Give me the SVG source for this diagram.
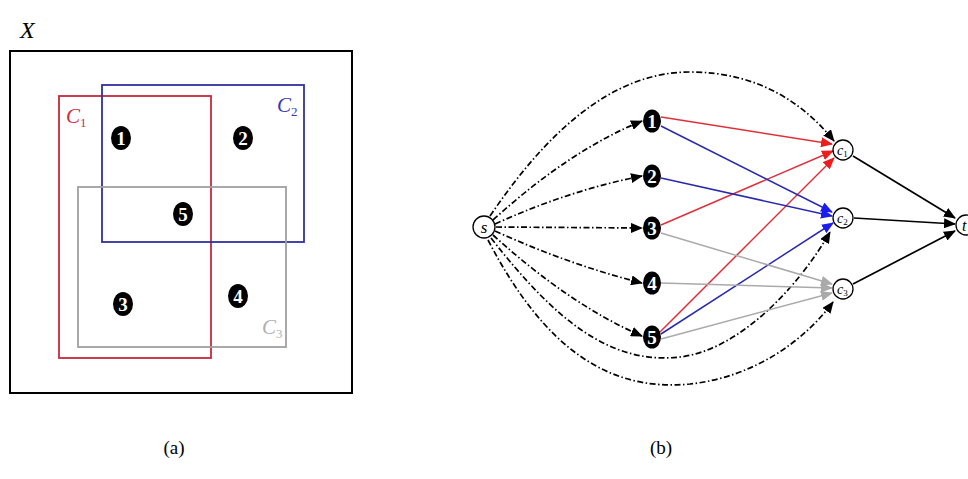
<svg xmlns="http://www.w3.org/2000/svg" width="968" height="479" viewBox="0 0 968 479">
<style>
.lbl{font-family:"Liberation Serif","DejaVu Serif","Noto Serif",serif;font-style:italic}
.num{font-family:"Liberation Serif","DejaVu Serif","Noto Serif",serif;font-weight:bold;fill:#fff;text-anchor:middle}
.cap{font-family:"Liberation Serif","DejaVu Serif","Noto Serif",serif;font-size:19px;text-anchor:middle}
.dd{fill:none;stroke:#000;stroke-width:1.7;stroke-dasharray:6 2.5 1.5 2.5}
.red{fill:none;stroke:#e0303a;stroke-width:1.5}
.blue{fill:none;stroke:#2a2ab0;stroke-width:1.5}
.gray{fill:none;stroke:#aaaaaa;stroke-width:1.5}
.blk{fill:none;stroke:#000;stroke-width:1.7}
.cn{fill:#fff;stroke:#000;stroke-width:1.3}
</style>
<defs>
<marker id="ak" markerWidth="12" markerHeight="10" refX="11" refY="5" orient="auto" markerUnits="userSpaceOnUse"><path d="M0,0 L12,5 L0,10 Z" fill="#000"/></marker>
<marker id="ar" markerWidth="12" markerHeight="10" refX="11" refY="5" orient="auto" markerUnits="userSpaceOnUse"><path d="M0,0 L12,5 L0,10 Z" fill="#ee1c1c"/></marker>
<marker id="ab" markerWidth="12" markerHeight="10" refX="11" refY="5" orient="auto" markerUnits="userSpaceOnUse"><path d="M0,0 L12,5 L0,10 Z" fill="#1c1cee"/></marker>
<marker id="ag" markerWidth="12" markerHeight="10" refX="11" refY="5" orient="auto" markerUnits="userSpaceOnUse"><path d="M0,0 L12,5 L0,10 Z" fill="#aaaaaa"/></marker>
</defs>
<rect width="968" height="479" fill="#fff"/>

<!-- Panel (a) -->
<g id="panel-a">
<text class="lbl" x="20" y="38" font-size="24">X</text>
<rect x="10" y="51" width="342" height="342" fill="none" stroke="#000" stroke-width="2"/>
<g id="set-C1">
<rect x="59" y="96" width="152" height="262" fill="none" stroke="#c8283c" stroke-width="1.8"/>
<text class="lbl" x="66" y="123" font-size="21" fill="#d02a40">C<tspan font-size="13" dy="4" font-style="normal">1</tspan></text>
</g>
<g id="set-C2">
<rect x="102" y="85" width="202" height="157" fill="none" stroke="#3030a0" stroke-width="1.8"/>
<text class="lbl" x="277" y="112" font-size="21" fill="#3838b8">C<tspan font-size="13" dy="4" font-style="normal">2</tspan></text>
</g>
<g id="set-C3">
<rect x="78" y="187" width="208" height="160" fill="none" stroke="#a0a0a0" stroke-width="1.8"/>
<text class="lbl" x="262" y="334" font-size="21" fill="#b0b0b0">C<tspan font-size="13" dy="4" font-style="normal">3</tspan></text>
</g>
<g id="a-n1"><ellipse cx="121" cy="138" rx="10" ry="12" fill="#000"/><text class="num" x="121" y="145" font-size="19">1</text></g>
<g id="a-n2"><ellipse cx="243" cy="138" rx="10" ry="12" fill="#000"/><text class="num" x="243" y="145" font-size="19">2</text></g>
<g id="a-n5"><ellipse cx="183" cy="214" rx="10" ry="12" fill="#000"/><text class="num" x="183" y="221" font-size="19">5</text></g>
<g id="a-n3"><ellipse cx="123" cy="304" rx="10" ry="12" fill="#000"/><text class="num" x="123" y="311" font-size="19">3</text></g>
<g id="a-n4"><ellipse cx="238" cy="296" rx="10" ry="12" fill="#000"/><text class="num" x="238" y="303" font-size="19">4</text></g>
<text class="cap" x="174" y="454">(a)</text>
</g>

<!-- Panel (b) connectors -->
<g id="connectors">
<path class="dd" marker-end="url(#ak)" d="M493,220 Q570,150 642,121"/>
<path class="dd" marker-end="url(#ak)" d="M495,224 Q570,190 642,176"/>
<path class="dd" marker-end="url(#ak)" d="M496,227 L642,228"/>
<path class="dd" marker-end="url(#ak)" d="M495,231 Q570,265 642,283"/>
<path class="dd" marker-end="url(#ak)" d="M493,235 Q570,305 642,336"/>
<path class="dd" marker-end="url(#ak)" d="M490,216 C545,135 610,72 690,72 C760,72 805,105 834,141"/>
<path class="dd" marker-end="url(#ak)" d="M491,238 C555,320 610,365 680,357 C740,350 800,285 830,232"/>
<path class="dd" marker-end="url(#ak)" d="M488,240 C545,350 610,392 690,384 C755,377 805,340 833,302"/>

<path class="red" marker-end="url(#ar)" d="M661,117 L832,144"/>
<path class="red" marker-end="url(#ar)" d="M661,225 L833,151"/>
<path class="red" marker-end="url(#ar)" d="M660,332 L834,158"/>
<path class="blue" marker-end="url(#ab)" d="M661,126 L832,212"/>
<path class="blue" marker-end="url(#ab)" d="M661,178 L832,216"/>
<path class="blue" marker-end="url(#ab)" d="M661,334 L833,223"/>
<path class="gray" marker-end="url(#ag)" d="M661,233 L832,284"/>
<path class="gray" marker-end="url(#ag)" d="M661,283 L832,288"/>
<path class="gray" marker-end="url(#ag)" d="M661,339 L832,293"/>
<path class="blk" marker-end="url(#ak)" d="M853,156 L955,218"/>
<path class="blk" marker-end="url(#ak)" d="M854,218 L955,224"/>
<path class="blk" marker-end="url(#ak)" d="M853,284 L955,231"/>
</g>

<!-- Panel (b) nodes -->
<g id="node-s"><circle class="cn" cx="484" cy="227" r="11"/><text class="lbl" x="484" y="233" font-size="17" text-anchor="middle">s</text></g>
<g id="node-1"><ellipse cx="652" cy="121" rx="9" ry="11.5" fill="#000"/><text class="num" x="652" y="128" font-size="19">1</text></g>
<g id="node-2"><ellipse cx="652" cy="176" rx="9" ry="11.5" fill="#000"/><text class="num" x="652" y="183" font-size="19">2</text></g>
<g id="node-3"><ellipse cx="652" cy="228" rx="9" ry="11.5" fill="#000"/><text class="num" x="652" y="235" font-size="19">3</text></g>
<g id="node-4"><ellipse cx="652" cy="283" rx="9" ry="11.5" fill="#000"/><text class="num" x="652" y="290" font-size="19">4</text></g>
<g id="node-5"><ellipse cx="652" cy="337" rx="9" ry="11.5" fill="#000"/><text class="num" x="652" y="344" font-size="19">5</text></g>
<g id="node-c1"><circle class="cn" cx="843" cy="150" r="10"/><text class="lbl" x="837" y="155" font-size="14">c<tspan font-size="9" dy="2" font-style="normal">1</tspan></text></g>
<g id="node-c2"><circle class="cn" cx="843" cy="218" r="10"/><text class="lbl" x="837" y="223" font-size="14">c<tspan font-size="9" dy="2" font-style="normal">2</tspan></text></g>
<g id="node-c3"><circle class="cn" cx="843" cy="289" r="10"/><text class="lbl" x="837" y="294" font-size="14">c<tspan font-size="9" dy="2" font-style="normal">3</tspan></text></g>
<g id="node-t"><circle class="cn" cx="966" cy="225" r="10"/><text class="lbl" x="962" y="231" font-size="16">t</text></g>
<text class="cap" x="661" y="454">(b)</text>
</svg>
